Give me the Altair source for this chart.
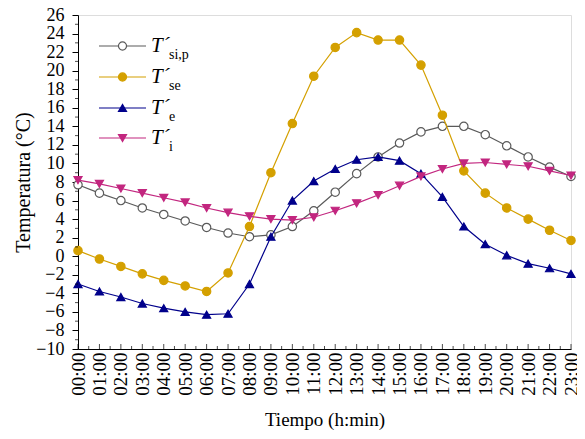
import altair as alt
import pandas as pd

hours = list(range(24))
tsip = [7.7, 6.8, 6.0, 5.2, 4.5, 3.8, 3.1, 2.5, 2.1, 2.3, 3.2, 4.9, 6.9, 8.9, 10.7, 12.2, 13.4, 14.0, 14.0, 13.1, 11.9, 10.7, 9.6, 8.6]
tse = [0.6, -0.3, -1.1, -1.9, -2.6, -3.2, -3.8, -1.8, 3.2, 9.0, 14.3, 19.4, 22.5, 24.1, 23.3, 23.3, 20.6, 15.2, 9.2, 6.8, 5.2, 4.0, 2.8, 1.7]
te = [-3.0, -3.8, -4.4, -5.1, -5.6, -6.0, -6.3, -6.2, -3.0, 2.1, 6.0, 8.1, 9.4, 10.4, 10.7, 10.3, 8.9, 6.4, 3.2, 1.3, 0.1, -0.8, -1.3, -1.9]
ti = [8.2, 7.8, 7.3, 6.8, 6.3, 5.8, 5.2, 4.7, 4.3, 4.0, 3.9, 4.2, 4.9, 5.7, 6.6, 7.6, 8.6, 9.4, 10.0, 10.1, 9.9, 9.7, 9.2, 8.7]

series_keys = ["sip", "se", "e", "i"]
series_subs = ["si,p", "se", "e", "i"]
series_colors = ["#5a5a5a", "#D4A000", "#00008B", "#C2267F"]
series_fills = ["#ffffff", "#D4A000", "#00008B", "#C2267F"]
series_shapes = ["circle", "circle", "triangle-up", "triangle-down"]
series_values = [tsip, tse, te, ti]

y_labels = list(range(-10, 27, 2))
y_minor = list(range(-9, 26, 2))
x_major = hours
x_minor = [h + 0.5 for h in range(23)]

FONT = "Liberation Serif"
W, H = 493, 334

xscale = alt.Scale(domain=[0, 23], nice=False, zero=False)
yscale = alt.Scale(domain=[-10, 26], nice=False, zero=False)

xaxis = alt.Axis(
    values=x_major,
    labelExpr="(datum.value < 10 ? '0' : '') + datum.value + ':00'",
    labelAngle=270,
    labelFont=FONT, labelFontSize=19, labelColor="black", labelPadding=3,
    labelOverlap=False, ticks=False,
    domainColor="black", grid=False,
    title="Tiempo (h:min)", titleFont=FONT, titleFontSize=19, titleFontWeight="normal",
    titleColor="black", titlePadding=15,
)
yaxis = alt.Axis(
    values=y_labels,
    labelFont=FONT, labelFontSize=18, labelColor="black", labelPadding=8,
    labelOverlap=False, tickSize=6,
    tickColor="black", domainColor="black", grid=False,
    title="Temperatura (°C)", titleFont=FONT, titleFontSize=20, titleFontWeight="normal",
    titleColor="black", titlePadding=2,
)
xenc = alt.X("hour:Q", scale=xscale, axis=xaxis)
yenc = alt.Y("val:Q", scale=yscale, axis=yaxis)

layers = []
for k, vals, col, fill, shp in zip(series_keys, series_values, series_colors, series_fills, series_shapes):
    df = pd.DataFrame({"hour": hours, "val": vals})
    base = alt.Chart(df)
    layers.append(base.mark_line(color=col, strokeWidth=1.2).encode(x=xenc, y=yenc))
    layers.append(
        base.mark_point(shape=shp, color=col, fill=fill, filled=False, fillOpacity=1,
                        strokeWidth=1.2, size=70 if shp == "circle" else 65, opacity=1)
        .encode(x=xenc, y=yenc)
    )

# minor / inner ticks
layers.append(
    alt.Chart(pd.DataFrame({"val": y_minor})).mark_tick(
        orient="horizontal", size=3, thickness=1, color="black"
    ).encode(y=yenc, x=alt.value(-1.5))
)
layers.append(
    alt.Chart(pd.DataFrame({"hour": x_major})).mark_tick(
        orient="vertical", size=5, thickness=1, color="black"
    ).encode(x=xenc, y=alt.value(H - 2.5))
)
layers.append(
    alt.Chart(pd.DataFrame({"hour": x_minor})).mark_tick(
        orient="vertical", size=3, thickness=1, color="black"
    ).encode(x=xenc, y=alt.value(H - 1.5))
)

# manual legend (pixel positions inside the plot area)
leg_y = [31, 62, 93, 123]
leg = pd.DataFrame({
    "y": leg_y, "x1": [21] * 4, "x2": [68] * 4, "xm": [44.5] * 4,
    "xt": [73] * 4, "xs": [91] * 4,
    "key": series_keys, "sub": series_subs,
})
color_scale = alt.Scale(domain=series_keys, range=series_colors)
fill_scale = alt.Scale(domain=series_keys, range=series_fills)
shape_scale = alt.Scale(domain=series_keys, range=series_shapes)
lb = alt.Chart(leg)
layers.append(
    lb.mark_rule(strokeWidth=1.2).encode(
        x=alt.X("x1:Q", scale=None), x2="x2:Q", y=alt.Y("y:Q", scale=None),
        color=alt.Color("key:N", scale=color_scale, legend=None),
    )
)
layers.append(
    lb.mark_point(filled=False, fillOpacity=1, opacity=1, strokeWidth=1.2, size=65).encode(
        x=alt.X("xm:Q", scale=None), y=alt.Y("y:Q", scale=None),
        color=alt.Color("key:N", scale=color_scale, legend=None),
        fill=alt.Fill("key:N", scale=fill_scale, legend=None),
        shape=alt.Shape("key:N", scale=shape_scale, legend=None),
    )
)
layers.append(
    lb.mark_text(text="T´", font=FONT, fontSize=21, fontStyle="italic", align="left",
                 baseline="middle", color="black").encode(
        x=alt.X("xt:Q", scale=None), y=alt.Y("y:Q", scale=None),
    )
)
layers.append(
    lb.mark_text(font=FONT, fontSize=14, align="left", baseline="middle", dy=9,
                 color="black").encode(
        x=alt.X("xs:Q", scale=None), y=alt.Y("y:Q", scale=None), text="sub:N",
    )
)

chart = alt.layer(*layers).properties(
    width=W, height=H,
    autosize=alt.AutoSizeParams(type="none"),
    padding={"left": 70, "top": 7, "right": 6, "bottom": 82},
).configure_view(stroke="black", strokeWidth=1.2).configure_axis(
    labelFont=FONT, titleFont=FONT
).configure(background="white", font=FONT)

chart.save("out.html", embed_options={"renderer": "svg", "actions": False})
